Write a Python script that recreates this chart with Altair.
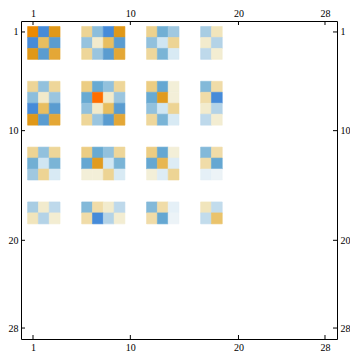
import altair as alt
import pandas as pd

# block layout (1-based starting row/col and sizes)
block_starts = [1, 6, 12, 17]
block_sizes = [3, 4, 3, 2]
tick_vals = [1, 10, 20, 28]

B11 = [[0.85, -0.95, 0.75], [-0.95, 0.5, -0.8], [0.75, -0.8, 0.65]]
B12 = [[0.3, -0.45, -0.95, 0.75], [-0.4, 0.12, 0.5, -0.8], [0.28, -0.38, -0.8, 0.65]]
B13 = [[0.32, -0.6, -0.35], [-0.42, -0.15, 0.3], [0.27, -0.55, -0.12]]
B14 = [[-0.32, 0.17], [0.12, -0.28], [-0.24, 0.1]]
B21 = [[0.29, -0.42, 0.28], [-0.45, 0.13, -0.38], [-0.95, 0.5, -0.8], [0.75, -0.8, 0.65]]
B22 = [[0.36, -0.65, -0.42, 0.28], [-0.65, 1.0, 0.13, -0.38], [-0.42, 0.13, 0.5, -0.8], [0.28, -0.38, -0.8, 0.65]]
B23 = [[0.36, -0.68, 0.08], [-0.65, 0.73, 0.08], [-0.42, -0.15, 0.3], [0.27, -0.55, -0.12]]
B24 = [[-0.5, 0.22], [0.22, -0.95], [0.12, -0.28], [-0.24, 0.1]]
B31 = [[0.3, -0.42, 0.28], [-0.6, -0.15, -0.55], [-0.35, 0.3, -0.12]]
B32 = [[0.36, -0.65, -0.42, 0.28], [-0.68, 0.73, -0.15, -0.55], [0.08, 0.08, 0.3, -0.12]]
B33 = [[0.36, -0.68, 0.08], [-0.68, 0.55, -0.1], [0.08, -0.1, 0.3]]
B34 = [[-0.5, 0.22], [0.22, -0.68], [-0.07, -0.04]]
B41 = [[-0.32, 0.12, -0.24], [0.17, -0.28, 0.1]]
B42 = [[-0.5, 0.22, 0.12, -0.24], [0.22, -0.95, -0.28, 0.1]]
B43 = [[-0.5, 0.22, -0.07], [0.22, -0.68, -0.04]]
B44 = [[0.17, -0.22], [-0.22, 0.45]]

blocks = [[B11, B12, B13, B14], [B21, B22, B23, B24],
          [B31, B32, B33, B34], [B41, B42, B43, B44]]

color_stops = [-1.0, -0.9, -0.8, -0.65, -0.55, -0.45, -0.35, -0.25, -0.15, -0.05,
               0.0, 0.08, 0.15, 0.22, 0.3, 0.4, 0.5, 0.6, 0.7, 0.75, 0.85, 1.0]
color_range = ["#4287DA", "#4A8ED8", "#5A9CD0", "#68AAD2", "#7AB4D6", "#8CBEDC",
               "#A0C8E0", "#BCD8EA", "#D0E6F2", "#EAF2F8", "#F5F5F2", "#F3EFD8",
               "#F2E8C4", "#F0DCA8", "#EDD494", "#EBC878", "#E8BE60", "#E5AE44",
               "#E29F28", "#E09818", "#EC8A00", "#FF6E00"]

rows = []
for bi, rs in enumerate(block_starts):
    for bj, cs in enumerate(block_starts):
        B = blocks[bi][bj]
        for i, rowvals in enumerate(B):
            for j, v in enumerate(rowvals):
                r = rs + i
                c = cs + j
                rows.append({"x0": c - 0.5, "x1": c + 0.5,
                             "y0": r - 0.5, "y1": r + 0.5, "v": v})
df = pd.DataFrame(rows)
tdf = pd.DataFrame({"t": tick_vals})

W, H = 316, 318
xscale = alt.Scale(domain=[-0.11, 29.11], nice=False, zero=False)
yscale = alt.Scale(domain=[0.0, 29.0], nice=False, zero=False, reverse=True)
cscale = alt.Scale(domain=color_stops, range=color_range, interpolate="rgb")

def ax(orient):
    return alt.Axis(values=tick_vals, orient=orient, title=None, format="d",
                    labelFlush=False, labelOverlap=False)

rect = alt.Chart(df).mark_rect(strokeWidth=0.6).encode(
    x=alt.X("x0:Q", scale=xscale, axis=ax("bottom")),
    x2="x1:Q",
    y=alt.Y("y0:Q", scale=yscale, axis=ax("left")),
    y2="y1:Q",
    color=alt.Color("v:Q", scale=cscale, legend=None),
    stroke=alt.Stroke("v:Q", scale=cscale, legend=None),
)

top = alt.Chart(tdf).mark_rule(color="black", strokeWidth=1).encode(
    x=alt.X("t:Q", scale=xscale, axis=ax("top")),
    y=alt.value(0), y2=alt.value(4))
bottom = alt.Chart(tdf).mark_rule(color="black", strokeWidth=1).encode(
    x=alt.X("t:Q", scale=xscale, axis=None),
    y=alt.value(H - 4), y2=alt.value(H))
left = alt.Chart(tdf).mark_rule(color="black", strokeWidth=1).encode(
    y=alt.Y("t:Q", scale=yscale, axis=None),
    x=alt.value(0), x2=alt.value(4))
right = alt.Chart(tdf).mark_rule(color="black", strokeWidth=1).encode(
    y=alt.Y("t:Q", scale=yscale, axis=ax("right")),
    x=alt.value(W - 4), x2=alt.value(W))

chart = alt.layer(rect, top, bottom, left, right).resolve_axis(
    x="independent", y="independent"
).properties(width=W, height=H, background="white", padding=0).configure_view(
    stroke="black", strokeWidth=1
).configure_axis(
    domain=False, ticks=False, grid=False, labelFont="Liberation Serif",
    labelFontSize=10, labelColor="black", labelPadding=3
)

chart.save("out.html", embed_options={"renderer": "svg", "actions": False})
